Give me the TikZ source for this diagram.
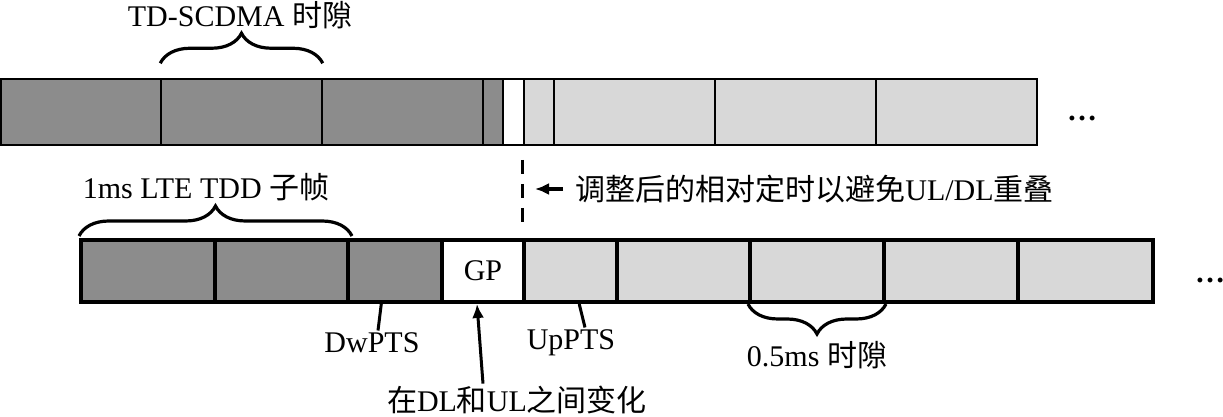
\documentclass[tikz,border=0pt]{standalone}
\usepackage{fontspec}
\setmainfont{Liberation Serif}
\newfontfamily\cjk{Noto Sans CJK SC}
\usetikzlibrary{decorations.pathreplacing,calc,arrows.meta}
\definecolor{dlgray}{HTML}{8C8C8C}
\definecolor{ulgray}{HTML}{D8D8D8}
\tikzset{
  lbl/.style={font=\fontsize{15}{18}\selectfont, inner sep=1pt},
  topslot/.style={draw, line width=0.75pt, inner sep=0pt, minimum height=33pt},
  lteslot/.style={draw, line width=2pt, inner sep=0pt, minimum height=31pt, lbl},
  slotbrace/.style={decorate, decoration={brace, amplitude=15pt}, line width=1.6pt},
  lead/.style={line width=1.5pt}
}

\begin{document}
\begin{tikzpicture}[x=0.5pt,y=-0.5pt,>={Latex[length=7pt,width=6pt]}]
  \useasboundingbox (0,0) rectangle (1223,417);
  % TD-SCDMA frame
  \foreach \xa/\xb/\col/\nm in {1/161/dlgray/t1, 161/322/dlgray/t2, 322/483/dlgray/t3,
      483/503/dlgray/t4, 503/524/white/t5, 524/554/ulgray/t6,
      554/715/ulgray/t7, 715/876/ulgray/t8, 876/1037/ulgray/t9} {
    \pgfmathsetmacro\w{(\xb-\xa)*0.5}
    \node[topslot, fill=\col, minimum width=\w pt] (\nm) at ({(\xa+\xb)/2},112) {};
  }
  \node[lbl, font=\fontsize{15}{18}\selectfont\bfseries, anchor=base] (tdots) at (1082,121) {…};
  \draw[slotbrace] ([yshift=7.5pt]t2.north west) -- ([yshift=7.5pt]t2.north east);
  \node[lbl] (tdlbl) at (240,15) {TD-SCDMA {\cjk 时隙}};

  % LTE TDD subframe
  \foreach \xa/\xb/\col/\nm in {81/215/dlgray/l1, 215/348/dlgray/l2, 348/442/dlgray/l3,
      442/524/white/l4, 524/617/ulgray/l5, 617/750/ulgray/l6,
      750/884/ulgray/l7, 884/1018/ulgray/l8, 1018/1153/ulgray/l9} {
    \pgfmathsetmacro\w{(\xb-\xa)*0.5}
    \node[lteslot, fill=\col, minimum width=\w pt] (\nm) at ({(\xa+\xb)/2},271) {};
  }
  \node[lbl] at (l4) {GP};
  \node[lbl, font=\fontsize{15}{18}\selectfont\bfseries, anchor=base] (ldots) at (1210,283) {…};
  \draw[slotbrace] ([yshift=1pt]l1.north west) -- ([xshift=1pt,yshift=1pt]l2.north east);
  \node[lbl] (ltelbl) at (206,187) {1ms LTE TDD {\cjk 子帧}};
  \draw[slotbrace] (l7.south east) -- (l7.south west);
  \node[lbl] (slotlbl) at (817,355) {0.5ms {\cjk 时隙}};

  % timing offset
  \draw[line width=1.5pt, dash pattern=on 7pt off 5pt]
    ([yshift=39pt]l5.north west) coordinate (dtop) -- ([yshift=6pt]l5.north west) coordinate (dbot);
  \node[lbl, anchor=west] (adjlbl) at (573,189) {{\cjk 调整后的相对定时以避免}UL/DL{\cjk 重叠}};
  \draw[->, line width=2.2pt] ([xshift=-5pt]adjlbl.west) -- ([xshift=-19pt]adjlbl.west);

  % special subframe fields
  \node[lbl] (dwlbl) at (372,343) {DwPTS};
  \draw[lead] ([xshift=3pt]dwlbl.north) -- ($(l3.south west)!0.36!(l3.south east)$);
  \node[lbl] (uplbl) at (571,343) {UpPTS};
  \draw[lead] ([xshift=7pt]uplbl.north) -- ($(l5.south west)!0.59!(l5.south east)$);
  \node[lbl] (gplbl) at (517,400) {{\cjk 在}DL{\cjk 和}UL{\cjk 之间变化}};
  \draw[->, lead] ([xshift=-17pt]gplbl.north) -- ([xshift=-3pt]l4.south);
\end{tikzpicture}
\end{document}
